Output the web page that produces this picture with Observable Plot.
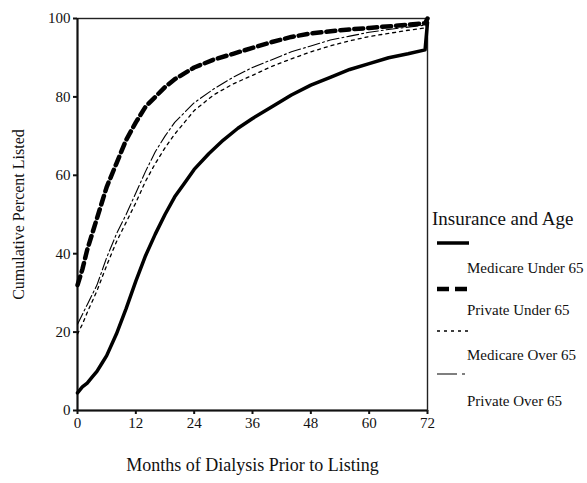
<!DOCTYPE html>
<html>
<head>
<meta charset="utf-8">
<script src="https://cdn.jsdelivr.net/npm/d3@7"></script>
<script src="https://cdn.jsdelivr.net/npm/@observablehq/plot@0.6"></script>
<style>
  html, body { margin: 0; padding: 0; background: #fff; }
  #chart { position: relative; width: 587px; height: 483px; }
</style>
</head>
<body>
<div id="chart"></div>
<script>
// Months of dialysis
const medicareUnder65Months = [0, 1, 2, 3, 4, 5, 6, 8, 10, 12, 14, 16, 18, 20, 22, 24, 27, 30, 33, 36, 40, 44, 48, 52, 56, 60, 64, 68, 71.5, 72];
const medicareUnder65Values = [4.5, 6, 7, 8.5, 10, 12, 14, 19.5, 26, 33, 39.5, 45, 50, 54.5, 58, 61.5, 65.5, 69, 72, 74.5, 77.5, 80.5, 83, 85, 87, 88.5, 90, 91, 92, 99];

const privateUnder65Months = [0, 1, 2, 3, 4, 5, 6, 8, 10, 12, 14, 16, 18, 20, 24, 28, 32, 36, 40, 44, 48, 54, 60, 66, 71.5, 72];
const privateUnder65Values = [32, 36, 41, 45, 49, 53, 57, 63, 69, 73.5, 77.5, 80, 82.5, 84.5, 87.5, 89.5, 91, 92.5, 94, 95.3, 96.2, 97, 97.6, 98.2, 98.8, 100];

const medicareOver65Months = [0, 1, 2, 4, 6, 8, 10, 12, 14, 16, 18, 20, 22, 24, 28, 32, 36, 40, 44, 48, 52, 56, 60, 64, 68, 71.5, 72];
const medicareOver65Values = [19.5, 22, 25, 30.5, 37, 43, 48, 53, 58.5, 63, 67, 70.5, 73.5, 76.5, 80.5, 83.3, 85.5, 87.8, 89.7, 91.5, 93, 94.3, 95.4, 96.2, 97, 97.6, 99];

const privateOver65Months = [0, 1, 2, 4, 6, 8, 10, 12, 14, 16, 18, 20, 24, 28, 32, 36, 40, 44, 48, 52, 56, 60, 64, 68, 71.5, 72];
const privateOver65Values = [22, 24.5, 27, 32, 39, 45, 50, 55.5, 61, 66, 70, 73.5, 78.5, 82, 85, 87.5, 89.5, 91.5, 93, 94.5, 95.5, 96.5, 97.2, 97.8, 98.3, 99];

const xTicks = [0, 12, 24, 36, 48, 60, 72];
const yTicks = [0, 20, 40, 60, 80, 100];

const seriesNames = ["Medicare Under 65", "Private Under 65", "Medicare Over 65", "Private Over 65"];
const legendTitle = "Insurance and Age";
const xLabel = "Months of Dialysis Prior to Listing";
const yLabel = "Cumulative Percent Listed";

const toRows = (months, values) => months.map((m, i) => ({month: m, value: values[i]}));
const rowsMU = toRows(medicareUnder65Months, medicareUnder65Values);
const rowsPU = toRows(privateUnder65Months, privateUnder65Values);
const rowsMO = toRows(medicareOver65Months, medicareOver65Values);
const rowsPO = toRows(privateOver65Months, privateOver65Values);

const serif = "'Liberation Serif', 'Times New Roman', serif";

const styles = [
  {strokeWidth: 3.5, strokeDasharray: null},
  {strokeWidth: 4.5, strokeDasharray: "9,5"},
  {strokeWidth: 1.3, strokeDasharray: "3,4"},
  {strokeWidth: 1.1, strokeDasharray: "12,3,2,3"}
];

const plot = Plot.plot({
  width: 587,
  height: 483,
  marginLeft: 77,
  marginRight: 160,
  marginTop: 18,
  marginBottom: 73,
  style: {fontFamily: serif, fontSize: "15px", color: "#111", background: "#fff"},
  x: {domain: [0, 72]},
  y: {domain: [0, 100]},
  marks: [
    Plot.axisX({ticks: xTicks, tickSize: 4, tickPadding: 3, fontSize: 15, label: null, strokeWidth: 2}),
    Plot.axisY({ticks: yTicks, tickSize: 4, tickPadding: 3, fontSize: 15, label: null, strokeWidth: 2}),
    Plot.text([xLabel], {frameAnchor: "bottom", dy: 60, fontSize: 18, fill: "#111"}),
    Plot.text([yLabel], {frameAnchor: "left", textAnchor: "middle", rotate: -90, dx: -59, fontSize: 16, fill: "#111"}),
    Plot.frame({stroke: "#222", strokeWidth: 1.4}),
    Plot.ruleX([0], {stroke: "#111", strokeWidth: 2}),
    Plot.ruleY([0], {stroke: "#111", strokeWidth: 2}),
    Plot.line(rowsMU, {x: "month", y: "value", stroke: "#000", strokeWidth: styles[0].strokeWidth}),
    Plot.line(rowsPU, {x: "month", y: "value", stroke: "#000", strokeWidth: styles[1].strokeWidth, strokeDasharray: styles[1].strokeDasharray}),
    Plot.line(rowsMO, {x: "month", y: "value", stroke: "#000", strokeWidth: styles[2].strokeWidth, strokeDasharray: styles[2].strokeDasharray}),
    Plot.line(rowsPO, {x: "month", y: "value", stroke: "#000", strokeWidth: styles[3].strokeWidth, strokeDasharray: styles[3].strokeDasharray})
  ]
});

document.getElementById("chart").appendChild(plot);

// Legend (as in the original: labels sit below their line samples)
const svg = d3.select(plot);
const lg = svg.append("g").attr("font-family", serif).attr("fill", "#111").attr("text-anchor", "start");
lg.append("text").attr("x", 432).attr("y", 225).attr("font-size", "19px").text(legendTitle);
const sampleY = [243, 289, 331, 374];
const labelY = [273, 315, 360, 406];
seriesNames.forEach((name, i) => {
  lg.append("line")
    .attr("x1", 437).attr("x2", 469)
    .attr("y1", sampleY[i]).attr("y2", sampleY[i])
    .attr("stroke", "#000")
    .attr("stroke-width", styles[i].strokeWidth)
    .attr("stroke-dasharray", i === 3 ? "20,5,3,100" : (i === 1 ? "12,6" : styles[i].strokeDasharray));
  lg.append("text").attr("x", 467).attr("y", labelY[i]).attr("font-size", "15px").text(name);
});
</script>
</body>
</html>
